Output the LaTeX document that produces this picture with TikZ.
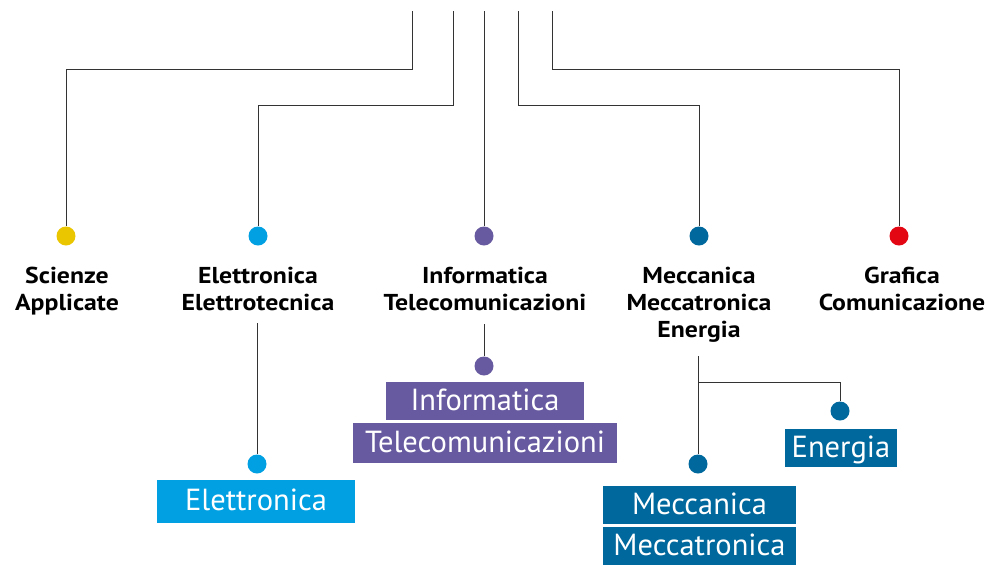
\documentclass[tikz,border=0pt]{standalone}
\usepackage{fontspec}
\setmainfont{PT Sans}
\newfontfamily\lblfont[FakeStretch=1.12]{PT Sans}
\definecolor{cyel}{HTML}{E9C600}
\definecolor{ccya}{HTML}{00A0E2}
\definecolor{cpur}{HTML}{685AA0}
\definecolor{cblu}{HTML}{00689C}
\definecolor{cred}{HTML}{E30613}
\definecolor{cline}{HTML}{333333}
\begin{document}
\begin{tikzpicture}[x=1pt,y=-1pt,
  dot/.style={circle,minimum size=19pt,inner sep=0pt},
  lbl/.style={anchor=north,align=center,inner sep=0pt,font=\lblfont\bfseries\fontsize{23}{27}\selectfont},
  tag/.style={anchor=north,inner sep=0pt,text=white,font=\fontsize{30.5}{30.5}\selectfont,text height=23pt,text depth=5pt},
  conn/.style={draw=cline,line width=0.9pt}]
\useasboundingbox (0,0) rectangle (989,566);
% top endpoints
\coordinate (t1) at (412,11);
\coordinate (t2) at (453,11);
\coordinate (t3) at (484,11);
\coordinate (t4) at (518,11);
\coordinate (t5) at (552,11);
% main dots
\node[dot,fill=cyel] (d1) at (66,236) {};
\node[dot,fill=ccya] (d2) at (258,236) {};
\node[dot,fill=cpur] (d3) at (484,236) {};
\node[dot,fill=cblu] (d4) at (699,236) {};
\node[dot,fill=cred] (d5) at (899,236) {};
% connectors from top
\draw[conn] (t1) -- ++(0,58) -| (d1);
\draw[conn] (t2) -- ++(0,94) -| (d2);
\draw[conn] (t3) -- (d3);
\draw[conn] (t4) -- ++(0,94) -| (d4);
\draw[conn] (t5) -- ++(0,58) -| (d5);
% labels
\node[lbl] (l1) at (67,267) {Scienze\\Applicate};
\node[lbl] (l2) at (258,267) {Elettronica\\Elettrotecnica};
\node[lbl] (l3) at (485,267) {Informatica\\Telecomunicazioni};
\node[lbl] (l4) at (699,267) {Meccanica\\Meccatronica\\Energia};
\node[lbl] (l5) at (902,267) {Grafica\\Comunicazione};
% sub dots
\node[dot,fill=ccya] (s2) at (257,464) {};
\node[dot,fill=cpur] (s3) at (484,366) {};
\node[dot,fill=cblu] (s4a) at (698,464) {};
\node[dot,fill=cblu] (s4b) at (840,411) {};
% sub connectors
\coordinate (c2) at (257,323);
\coordinate (c3) at (484,324);
\coordinate (c4) at (698,356);
\draw[conn] (c2) -- (s2);
\draw[conn] (c3) -- (s3);
\draw[conn] (c4) -- (s4a);
\draw[conn] (c4 |- 0,382) -| (s4b);
% tags
\node[tag,fill=ccya,minimum width=198pt,minimum height=43pt] (b2) at (256,480) {Elettronica};
\node[tag,fill=cpur,minimum width=198pt,minimum height=38pt] (b3a) at (485,382) {Informatica};
\node[tag,fill=cpur,minimum width=264pt,minimum height=40pt] (b3b) at (485,423) {Telecomunicazioni};
\node[tag,fill=cblu,minimum width=112pt,minimum height=38pt] (b4c) at (841,429) {Energia};
\node[tag,fill=cblu,minimum width=193pt,minimum height=38pt] (b4a) at (699.5,486) {Meccanica};
\node[tag,fill=cblu,minimum width=193pt,minimum height=38pt] (b4b) at (699.5,527) {Meccatronica};
\end{tikzpicture}
\end{document}
